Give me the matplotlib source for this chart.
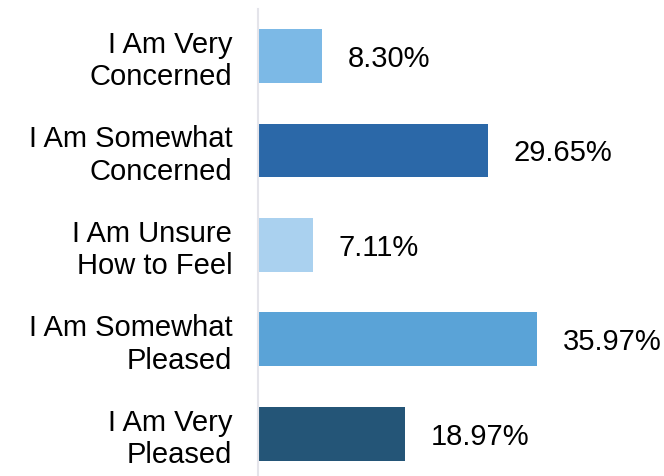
import matplotlib.pyplot as plt

# survey responses, top to bottom
categories = [
    "I Am Very\nConcerned",
    "I Am Somewhat\nConcerned",
    "I Am Unsure\nHow to Feel",
    "I Am Somewhat\nPleased",
    "I Am Very\nPleased",
]
percents = [8.30, 29.65, 7.11, 35.97, 18.97]
colors = ["#7cb9e6", "#2b68a8", "#aad1ef", "#5aa3d7", "#245577"]

plt.rcParams["font.family"] = ["Liberation Sans", "DejaVu Sans"]

fig = plt.figure(figsize=(6.64, 4.76), dpi=100)
ax = fig.add_axes([0.3886, -0.0105, 0.6114, 0.9921])

y = list(range(len(categories)))
ax.barh(y, percents, height=0.57, color=colors)

# value labels to the right of each bar
for yi, v in zip(y, percents):
    ax.annotate(f"{v:.2f}%", (v, yi), xytext=(18.5, -2), textcoords="offset points",
                va="center", ha="left", fontsize=21, color="#000000")

ax.set_ylim(len(categories) - 0.5, -0.5)
ax.set_xlim(0, 52.35)
ax.set_yticks(y)
ax.set_yticklabels(categories, fontsize=21, linespacing=1.2)
ax.tick_params(axis="y", length=0, pad=18.5)
ax.set_xticks([])

for side in ["top", "right", "bottom"]:
    ax.spines[side].set_visible(False)
ax.spines["left"].set_color("#e4e4ea")
ax.spines["left"].set_linewidth(1.5)

plt.savefig("out.png", dpi=100)
plt.close()
